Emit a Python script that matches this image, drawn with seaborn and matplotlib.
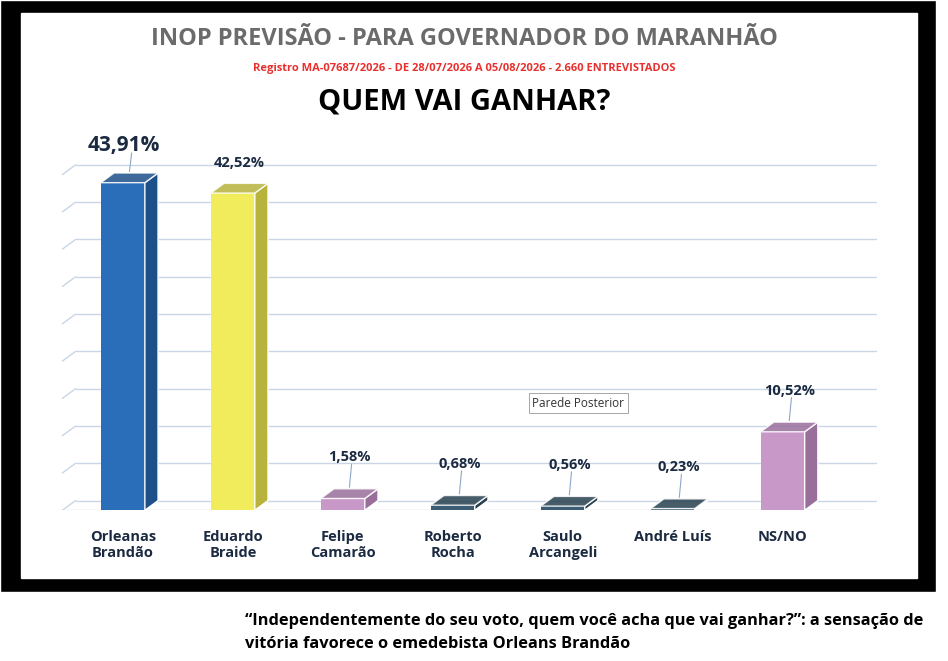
import matplotlib.pyplot as plt
import matplotlib.patches as mpatches
import seaborn as sns
import pandas as pd

candidatos = ['Orleanas\nBrandão', 'Eduardo\nBraide', 'Felipe\nCamarão', 'Roberto\nRocha',
              'Saulo\nArcangeli', 'André Luís', 'NS/NO']
valores = [43.91, 42.52, 1.58, 0.68, 0.56, 0.23, 10.52]
rotulos = ['43,91%', '42,52%', '1,58%', '0,68%', '0,56%', '0,23%', '10,52%']
cores = ['#2A6DB8', '#F1EC5C', '#C898C8', '#3B5C73', '#3B5C73', '#3B5C73', '#C898C8']
cores_lado = ['#1D4F88', '#B7B33C', '#9A6E9B', '#27404F', '#27404F', '#27404F', '#9A6E9B']

df = pd.DataFrame({'candidato': candidatos, 'valor': valores})

sns.set_style('white')
plt.rcParams['font.family'] = ['Open Sans', 'DejaVu Sans']

fig = plt.figure(figsize=(9.48, 6.61), dpi=100)
fig.patch.set_facecolor('white')
# black frame
fig.add_artist(mpatches.Rectangle((0, 0.105), 0.987, 0.895, transform=fig.transFigure,
                                  facecolor='black', zorder=-2))
fig.add_artist(mpatches.Rectangle((0.022, 0.125), 0.945, 0.855, transform=fig.transFigure,
                                  facecolor='white', zorder=-1))

ax = fig.add_axes([0.06, 0.228, 0.87, 0.57])
ax.set_facecolor('none')
sns.barplot(data=df, x='candidato', y='valor', palette=cores, hue='candidato',
            legend=False, width=0.4, ax=ax, saturation=1, zorder=3)
ax.set_ylim(0, 50.5)
ax.set_xlim(-0.6, 6.9)
dx, dy = 0.12, 1.3
for g in range(0, 50, 5):
    ax.plot([-0.55 + dx, 6.85], [g + dy, g + dy], color='#C9D6E6', lw=1, zorder=1)
    ax.plot([-0.55, -0.55 + dx], [g, g + dy], color='#C9D6E6', lw=1, zorder=1)
ax.plot([-0.55, 6.75], [0, 0], color='#C9D6E6', lw=1, zorder=1)

for i, bar in enumerate(ax.patches):
    x0, w, h = bar.get_x(), bar.get_width(), bar.get_height()
    bar.set_edgecolor('none')
    side = mpatches.Polygon([(x0 + w, 0), (x0 + w + dx, dy), (x0 + w + dx, h + dy), (x0 + w, h)],
                            facecolor=cores_lado[i], zorder=3)
    top = mpatches.Polygon([(x0, h), (x0 + dx, h + dy), (x0 + w + dx, h + dy), (x0 + w, h)],
                           facecolor=cores_lado[i], alpha=0.85, zorder=3)
    ax.add_patch(side)
    ax.add_patch(top)
    cx = x0 + w / 2 + dx / 2
    if i == 0:
        ax.text(cx - 0.05, h + 4.3, rotulos[i], ha='center', fontsize=15, fontweight='bold', color='#1B2A41')
        ax.plot([cx, cx + 0.02], [h + 1.5, h + 4.0], color='#8FA8C8', lw=0.8)
    elif i == 1:
        ax.text(cx, h + 3.5, rotulos[i], ha='center', fontsize=10.5, fontweight='bold', color='#1B2A41')
    else:
        ax.text(cx, h + 5.0, rotulos[i], ha='center', fontsize=10.5, fontweight='bold', color='#1B2A41')
        ax.plot([cx, cx + 0.02], [h + 1.5, h + 4.6], color='#8FA8C8', lw=0.8)

ax.set_xlabel('')
ax.set_ylabel('')
ax.set_yticks([])
ax.tick_params(axis='x', length=0, labelsize=10.5, colors='#1B2A41', pad=14)
for t in ax.get_xticklabels():
    t.set_fontweight('bold')
sns.despine(ax=ax, left=True, bottom=True)

fig.text(0.49, 0.932, 'INOP PREVISÃO - PARA GOVERNADOR DO MARANHÃO', ha='center',
         fontsize=17, fontweight='bold', color='#6B6B6B')
fig.text(0.49, 0.893, 'Registro MA-07687/2026 - DE 28/07/2026 A 05/08/2026 - 2.660 ENTREVISTADOS',
         ha='center', fontsize=8, fontweight='bold', color='#E8312F')
fig.text(0.49, 0.835, 'QUEM VAI GANHAR?', ha='center', fontsize=21, fontweight='bold', color='black')
fig.text(0.61, 0.385, 'Parede Posterior', ha='center', fontsize=8.5, color='#333333',
         bbox=dict(boxstyle='square,pad=0.3', fc='white', ec='#999999', lw=0.6))

fig.text(0.258, 0.055, '“Independentemente do seu voto, quem você acha que vai ganhar?”: a sensação de',
         ha='left', fontsize=11.8, fontweight='bold', color='black')
fig.text(0.258, 0.02, 'vitória favorece o emedebista Orleans Brandão',
         ha='left', fontsize=11.8, fontweight='bold', color='black')

fig.savefig('out.png', dpi=100)
